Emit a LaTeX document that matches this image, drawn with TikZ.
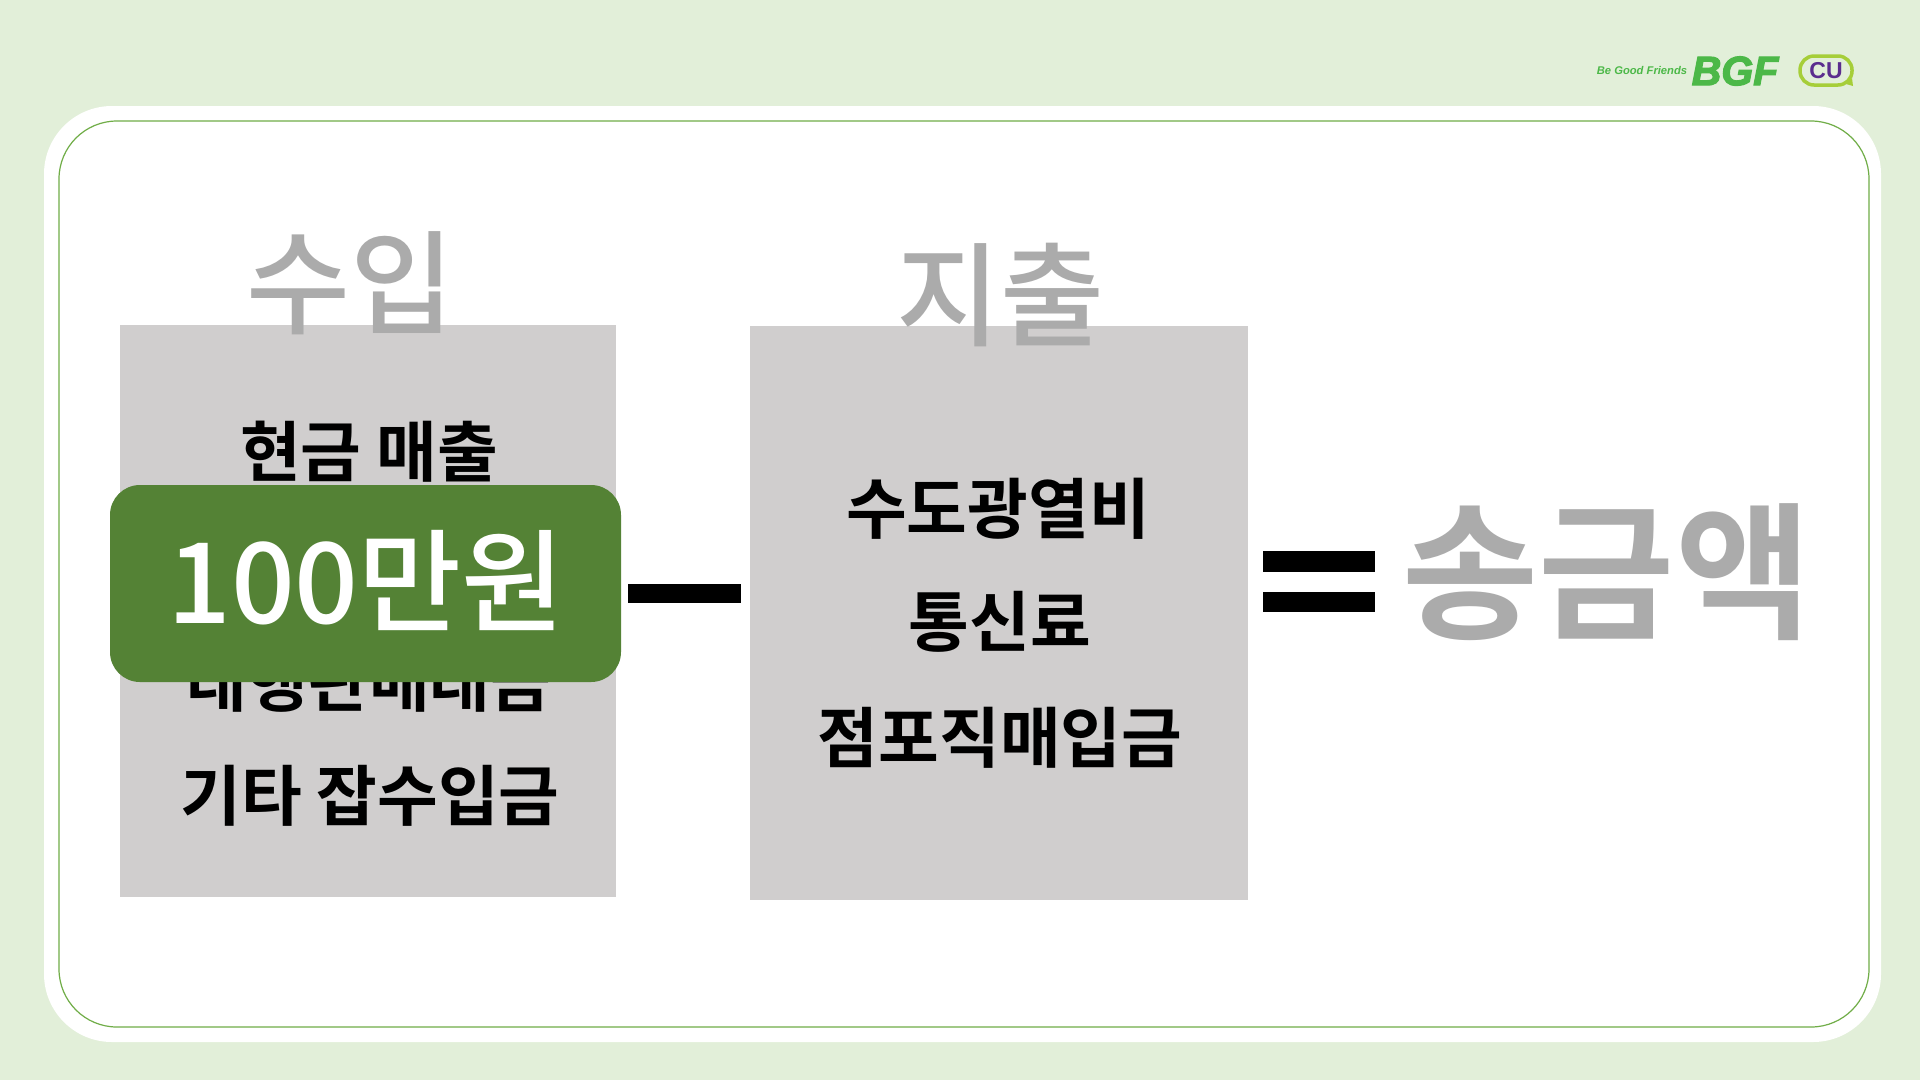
\documentclass[tikz,border=0pt]{standalone}
\usepackage{fontspec}
\setmainfont{Liberation Sans}
\newfontfamily\kr{Noto Sans CJK KR Medium}
\newfontfamily\krb{Noto Sans CJK KR Bold}
\newfontface\bgffont{Liberation Sans Bold Italic}[FakeBold=3]
\definecolor{bgg}{HTML}{E2EFD9}
\definecolor{lineg}{HTML}{70AD47}
\definecolor{boxg}{HTML}{D0CECE}
\definecolor{titleg}{HTML}{ABABAB}
\definecolor{darkg}{HTML}{548235}
\definecolor{logog}{HTML}{4CB848}
\definecolor{lime}{HTML}{A6CE39}
\definecolor{cupur}{HTML}{5B2D8E}
\tikzset{
  x=1pt,y=-1pt,
  title/.style={text=titleg,font=\fontsize{#1}{#1}\kr,inner sep=0pt,anchor=center},
  body/.style={text=black,font=\fontsize{66}{66}\krb,inner sep=0pt,anchor=center},
  bar/.style={fill=black,draw=none},
  logotext/.style={text=logog,font=\fontsize{#1}{#1}\itshape\bfseries,inner sep=0pt}
}
\begin{document}
\begin{tikzpicture}
\useasboundingbox (0,0) rectangle (1920,1080);
\fill[bgg] (0,0) rectangle (1920,1080);
\fill[white,rounded corners=68pt] (44,106) rectangle (1881,1042);
\draw[lineg,line width=1.2pt,rounded corners=58pt] (59,121) rectangle (1869,1027);
\fill[boxg] (120,324.5) rectangle (616,897);
\fill[boxg] (750,325.5) rectangle (1248,900);
\node[title=113] (t1) at (350,283) {수입};
\node[title=113] (t2) at (1000,295) {지출};
\node[body] (a1) at (369,452) {현금 매출};
\node[body] (a2) at (369,682) {대행판매대금};
\node[body] (a3) at (370,796) {기타 잡수입금};
\fill[darkg,rounded corners=30pt] (110,485) rectangle (621,682);
\node[text=white,font=\fontsize{112}{112}\kr,inner sep=0pt] (m) at (366,580) {100만원};
\fill[bar] (628,584) rectangle (741,603);
\node[body] (b1) at (998,509) {수도광열비};
\node[body] (b2) at (1000,622) {통신료};
\node[body] (b3) at (1000,738) {점포직매입금};
\fill[bar] (1263,551) rectangle (1375,572);
\fill[bar] (1263,592) rectangle (1375,612);
\node[title=148,font=\fontsize{148}{148}\krb] (s) at (1607,572) {송금액};
\node[logotext=11.2] (l1) at (1642,70) {Be Good Friends};
\node[text=logog,font=\fontsize{41}{41}\bgffont,inner sep=0pt] (l2) at (1735,71) {BGF};
\draw[lime,line width=3.5pt,rounded corners=14pt] (1800,56) -- (1852,56) -- (1852,85) -- (1800,85) -- cycle;
\fill[lime] (1846,84) -- (1853,86) -- (1852,78) -- cycle;
\node[text=cupur,font=\fontsize{23}{23}\bfseries,inner sep=0pt] (l3) at (1826,71) {CU};
\end{tikzpicture}
\end{document}
